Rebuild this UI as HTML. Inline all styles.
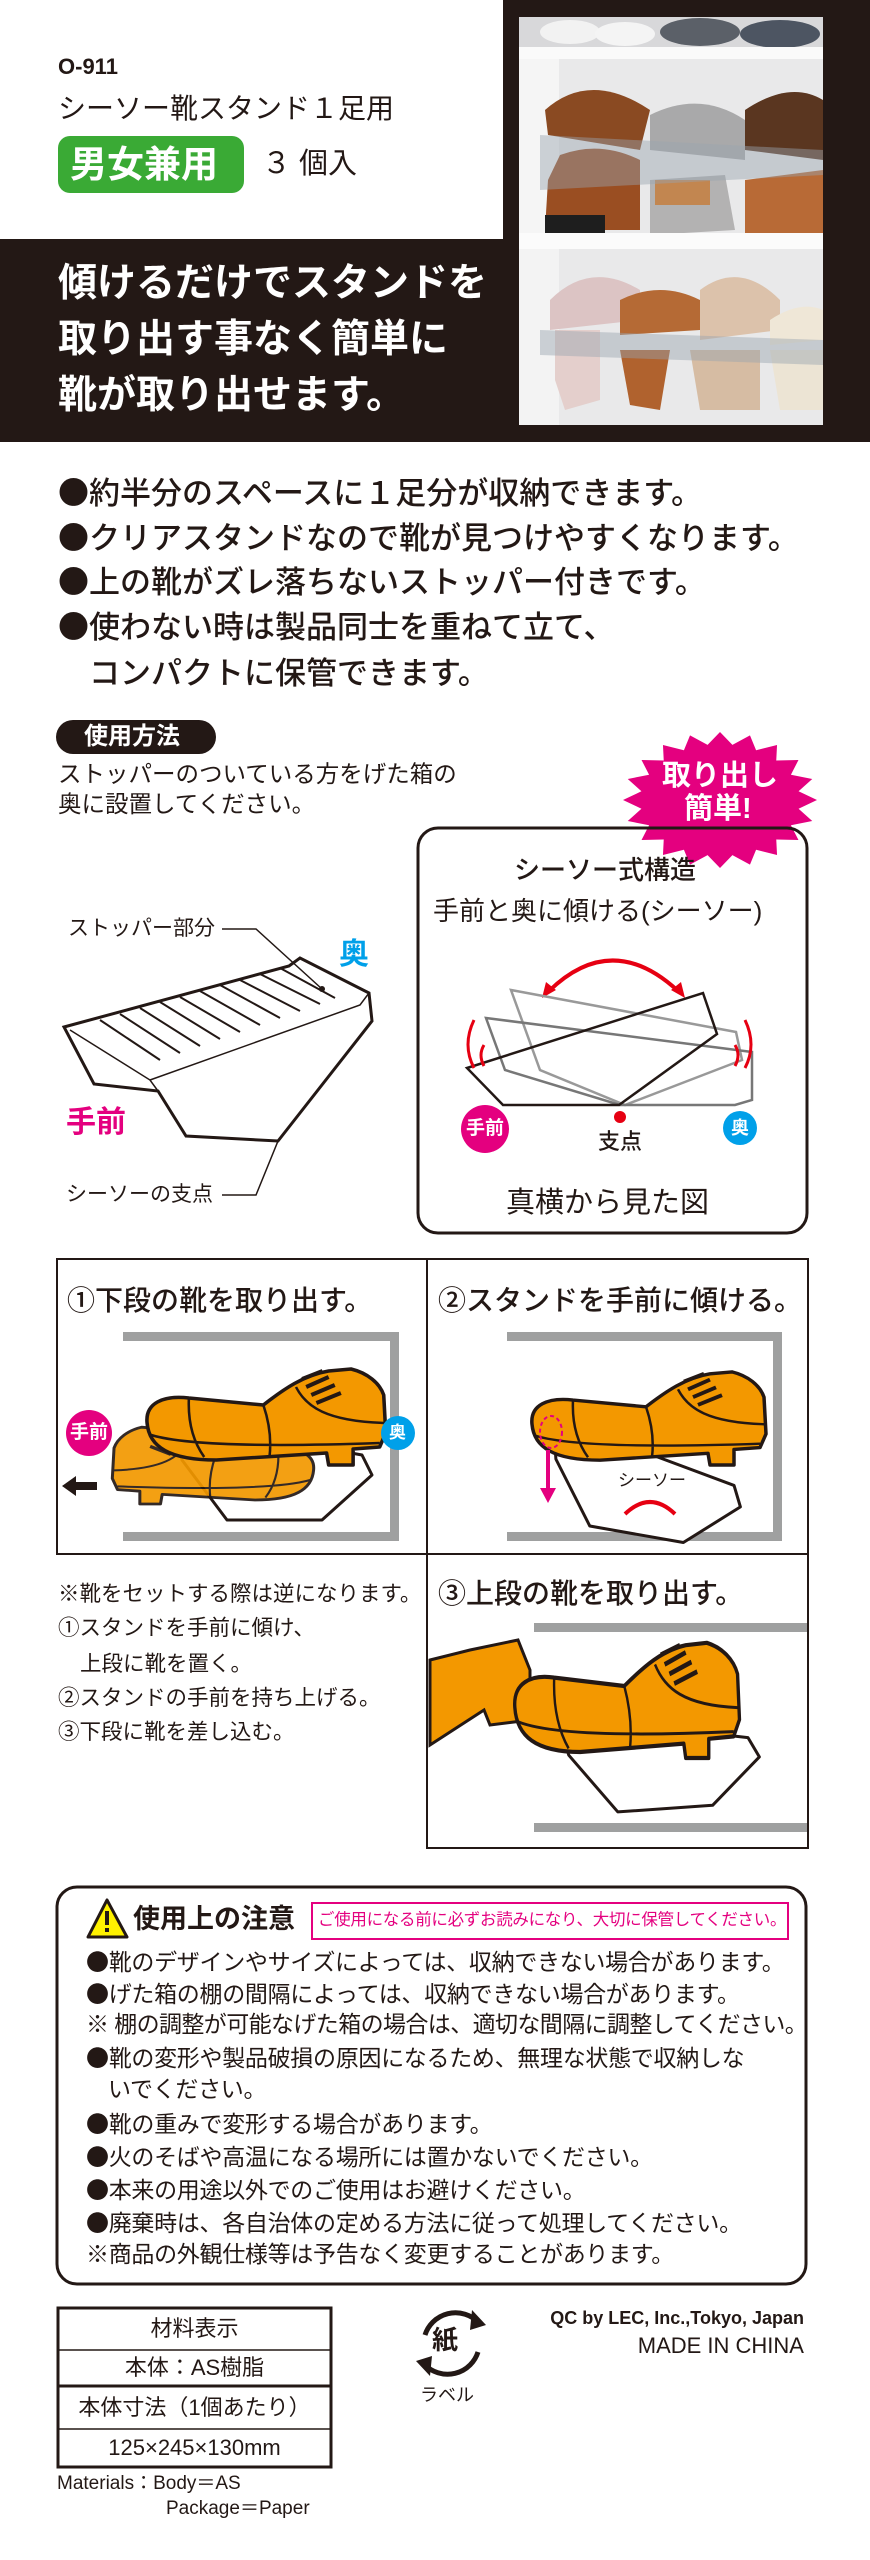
<!DOCTYPE html>
<html><head><meta charset="utf-8">
<style>
*{margin:0;padding:0;box-sizing:border-box}
body{width:870px;height:2560px;background:#fff;position:relative;overflow:hidden;font-family:"Liberation Sans","Noto Sans CJK JP",sans-serif;color:#231815}
.t{position:absolute;white-space:nowrap;line-height:1}
.b{font-family:"Noto Sans CJK JP",sans-serif}
svg.bg{position:absolute;left:0;top:0}
</style></head><body>
<svg class="bg" width="870" height="2560" viewBox="0 0 870 2560" xmlns="http://www.w3.org/2000/svg">
<rect x="0" y="239" width="870" height="203" fill="#231815"/>
<rect x="503" y="0" width="367" height="442" fill="#231815"/>
<rect x="519" y="17" width="304" height="408" fill="#e9e9ea"/>
<rect x="519" y="17" width="304" height="30" fill="#d8d8da"/>
<ellipse cx="570" cy="32" rx="30" ry="12" fill="#f2f2f2"/><ellipse cx="625" cy="34" rx="30" ry="12" fill="#f4f4f4"/>
<ellipse cx="700" cy="32" rx="40" ry="14" fill="#5b6068"/><ellipse cx="780" cy="34" rx="40" ry="14" fill="#4d5562"/>
<rect x="519" y="47" width="304" height="12" fill="#fafafa"/>
<rect x="519" y="59" width="40" height="174" fill="#f5f5f5"/>
<path d="M545 110 Q590 70 650 110 L640 150 L548 135Z" fill="#8a4a22"/>
<path d="M560 155 Q600 140 640 160 L640 230 L545 230 L548 180Z" fill="#9a4e22"/>
<rect x="545" y="215" width="60" height="20" fill="#1e1e1e"/>
<path d="M650 115 Q700 90 745 120 L745 160 L650 150Z" fill="#a9a9aa"/>
<path d="M650 180 L725 175 L735 230 L650 235Z" fill="#b3b2b2"/><rect x="655" y="180" width="55" height="25" fill="#c28650"/>
<path d="M745 110 Q790 80 823 100 L823 160 L745 150Z" fill="#5a3620"/>
<path d="M745 180 L823 170 L823 235 L745 240Z" fill="#b86a36"/>
<path d="M540 135 L823 150 L823 175 L540 190Z" fill="#9aa3b0" opacity=".45"/>
<rect x="519" y="233" width="304" height="16" fill="#fbfbfb"/>
<rect x="519" y="249" width="40" height="176" fill="#f3f3f3"/>
<path d="M550 300 Q590 260 640 290 L640 320 L550 330Z" fill="#dcc4c4"/>
<path d="M555 330 L600 330 L600 400 L565 410 L555 380Z" fill="#e4cfcc"/>
<path d="M620 300 Q660 280 700 300 L700 330 L620 335Z" fill="#b56a35"/>
<path d="M620 350 L670 350 L660 410 L630 405Z" fill="#b0622e"/>
<path d="M700 290 Q740 260 780 300 L780 330 L700 340Z" fill="#dcc2ab"/>
<path d="M690 350 L760 350 L760 410 L700 410Z" fill="#d6bca3"/>
<path d="M770 320 Q800 300 823 310 L823 340 L770 345Z" fill="#efe7d7"/>
<path d="M770 350 L823 350 L823 410 L780 410Z" fill="#ece4d4"/>
<path d="M540 330 L823 340 L823 365 L540 355Z" fill="#9aa3b0" opacity=".45"/>

<rect x="58" y="136" width="186" height="57" rx="12" fill="#3aaa35"/>
<rect x="56" y="720" width="160" height="34" rx="17" fill="#231815"/>
<svg x="623" y="732" width="194" height="136" viewBox="-100 -100 200 200" preserveAspectRatio="none">
<polygon fill="#e4007f" points="100,0 81,12.8 95.1,30.9 73.1,37.2 80.9,58.8 58,58 58.8,80.9 37.2,73.1 30.9,95.1 12.8,81 0,100 -12.8,81 -30.9,95.1 -37.2,73.1 -58.8,80.9 -58,58 -80.9,58.8 -73.1,37.2 -95.1,30.9 -81,12.8 -100,0 -81,-12.8 -95.1,-30.9 -73.1,-37.2 -80.9,-58.8 -58,-58 -58.8,-80.9 -37.2,-73.1 -30.9,-95.1 -12.8,-81 0,-100 12.8,-81 30.9,-95.1 37.2,-73.1 58.8,-80.9 58,-58 80.9,-58.8 73.1,-37.2 95.1,-30.9 81,-12.8"/>
</svg>
<rect x="418" y="828" width="389" height="405" rx="20" fill="none" stroke="#231815" stroke-width="3"/>
<path d="M549 991 Q612 930 678 991" fill="none" stroke="#e60012" stroke-width="4"/>
<polygon points="542,998 546,982 556,990" fill="#e60012"/>
<polygon points="685,998 681,982 671,990" fill="#e60012"/>
<polygon points="511,990 736,1032 742,1060 625,1105 540,1070" fill="none" stroke="#999" stroke-width="2.5"/>
<polygon points="486,1018 752,1052 752,1100 735,1105 620,1105 505,1070" fill="none" stroke="#777" stroke-width="2.5"/>
<polygon points="467,1068 703,993 717,1034 619,1105 503,1105" fill="none" stroke="#231815" stroke-width="2.5"/>
<path d="M474 1020 Q462 1045 474 1068" fill="none" stroke="#e60012" stroke-width="3"/>
<path d="M484 1045 Q478 1055 484 1066" fill="none" stroke="#e60012" stroke-width="3"/>
<path d="M745 1020 Q757 1045 745 1068" fill="none" stroke="#e60012" stroke-width="3"/>
<path d="M735 1045 Q741 1055 735 1066" fill="none" stroke="#e60012" stroke-width="3"/>
<circle cx="485" cy="1129" r="24" fill="#e4007f"/>
<circle cx="620" cy="1117" r="6" fill="#e60012"/>
<circle cx="740" cy="1128" r="17" fill="#00a0e9"/>
<polygon points="64,1027 289,966 300,958 369,993 372,1021 278,1141 186,1136 158,1091 94,1084" fill="#fff" stroke="#231815" stroke-width="3"/>
<polyline points="70,1030 150,1080 158,1091" fill="none" stroke="#231815" stroke-width="1.5"/>
<polyline points="150,1080 360,1005 369,993" fill="none" stroke="#231815" stroke-width="1.5"/>
<g stroke="#231815" stroke-width="2">
<line x1="100" y1="1020" x2="160" y2="1060"/><line x1="120" y1="1014" x2="180" y2="1053"/><line x1="140" y1="1008" x2="200" y2="1046"/><line x1="160" y1="1002" x2="220" y2="1039"/><line x1="180" y1="997" x2="240" y2="1032"/><line x1="200" y1="991" x2="260" y2="1025"/><line x1="220" y1="985" x2="280" y2="1018"/><line x1="240" y1="980" x2="300" y2="1011"/><line x1="260" y1="974" x2="320" y2="1004"/><line x1="280" y1="968" x2="335" y2="998"/>
</g>
<circle cx="322" cy="989" r="3" fill="#231815"/>
<polyline points="222,929 256,929 322,989" fill="none" stroke="#231815" stroke-width="1.5"/>
<polyline points="222,1195 256,1195 278,1141" fill="none" stroke="#231815" stroke-width="1.5"/>

<g fill="none" stroke="#231815" stroke-width="2">
<rect x="57" y="1259" width="751" height="295"/>
<line x1="427" y1="1259" x2="427" y2="1848"/>
<polyline points="427,1554 427,1848 808,1848 808,1554"/>
</g>
<g fill="#9fa0a0">
<rect x="123" y="1332" width="276" height="9"/><rect x="390" y="1332" width="9" height="209"/><rect x="123" y="1532" width="276" height="9"/>
<rect x="507" y="1332" width="275" height="9"/><rect x="773" y="1332" width="9" height="209"/><rect x="507" y="1532" width="275" height="9"/>
<rect x="534" y="1623" width="273" height="9"/><rect x="534" y="1823" width="273" height="9"/>
</g>
<defs>
<g id="shoe">
<path d="M4,58 C2,38 20,30 45,33 L118,40 C138,24 158,10 182,6 L204,4 C220,8 232,18 236,30 L238,68 L232,82 L206,84 L206,100 L182,100 L180,88 L72,95 C26,95 6,82 4,58 Z" fill="#f39800" stroke="#231815" stroke-width="3.5" stroke-linejoin="round"/>
<path d="M118,40 C124,58 126,75 124,92 M150,22 C160,42 180,56 236,58 M45,33 C44,55 48,75 60,92 M8,70 C40,80 120,82 232,78" fill="none" stroke="#231815" stroke-width="2.5"/>
<path d="M156,14 L176,6 M160,22 L182,12 M165,30 L188,20 M170,38 L194,28" stroke="#231815" stroke-width="4"/>
</g>
<g id="stand">
<polygon points="0,0 190,35 200,55 150,100 55,100 10,40" fill="#fff" stroke="#231815" stroke-width="3" stroke-linejoin="round"/>
</g>
</defs>
<use href="#stand" x="172" y="1420"/>
<g transform="translate(317,1424) scale(-0.86,0.8)" opacity="0.92"><use href="#shoe"/></g>
<g transform="translate(143,1365) scale(1.02,1)"><use href="#shoe"/></g>
<circle cx="89" cy="1433" r="23" fill="#e4007f"/>
<circle cx="398" cy="1433" r="17" fill="#00a0e9"/>
<polygon points="62,1486 76,1476 76,1482 97,1482 97,1490 76,1490 76,1496" fill="#231815"/>
<g transform="translate(553,1418) rotate(10)"><use href="#stand"/></g>
<g transform="translate(528,1368) scale(1,0.97)"><use href="#shoe"/></g>
<ellipse cx="551" cy="1432" rx="11" ry="16" fill="none" stroke="#e4007f" stroke-width="2" stroke-dasharray="4 3"/>
<line x1="548" y1="1450" x2="548" y2="1492" stroke="#e4007f" stroke-width="4"/>
<polygon points="540,1488 556,1488 548,1503" fill="#e4007f"/>
<path d="M625 1514 Q650 1490 675 1514" fill="none" stroke="#e60012" stroke-width="4"/>
<g transform="translate(430,1640)"><path d="M0,20 L40,10 L88,0 L100,30 L100,80 L60,85 L54,70 L0,105 Z" fill="#f39800" stroke="#231815" stroke-width="3"/></g>
<g transform="translate(556,1716) rotate(-4)"><use href="#stand"/></g>
<g transform="translate(511,1638) scale(0.96,1.2)"><use href="#shoe"/></g>

<rect x="57" y="1887" width="749" height="397" rx="20" fill="none" stroke="#231815" stroke-width="3"/>
<polygon points="107,1900 127,1937 88,1937" fill="#fff100" stroke="#231815" stroke-width="3" stroke-linejoin="round"/>
<rect x="105" y="1911" width="4" height="14" fill="#231815"/><rect x="105" y="1928" width="4" height="4" fill="#231815"/>
<rect x="312" y="1903" width="476" height="36" fill="none" stroke="#e4007f" stroke-width="2"/>
<g fill="none" stroke="#231815">
<rect x="58" y="2308" width="273" height="159" stroke-width="3"/>
<line x1="58" y1="2350" x2="331" y2="2350" stroke-width="1.5"/>
<line x1="58" y1="2386" x2="331" y2="2386" stroke-width="3"/>
<line x1="58" y1="2429" x2="331" y2="2429" stroke-width="1.5"/>
</g>
<path d="M425 2335 A32 32 0 0 1 478 2322" fill="none" stroke="#231815" stroke-width="5"/>
<polygon points="472,2310 486,2325 470,2330" fill="#231815"/>
<path d="M478 2352 A32 32 0 0 1 425 2365" fill="none" stroke="#231815" stroke-width="5"/>
<polygon points="430,2376 416,2361 432,2356" fill="#231815"/>
</svg>

<div class="t" style="left:58px;top:56px;font-size:22px;font-weight:bold">O-911</div>
<div class="t" style="left:58px;top:95px;font-size:28px">シーソー靴スタンド１足用</div>
<div class="t" style="left:70px;top:146px;font-size:37px;font-weight:bold;color:#fff">男女兼用</div>
<div class="t" style="left:262px;top:150px;font-size:29px">３ 個入</div>
<div class="t" style="left:58px;top:264px;font-size:39px;font-weight:bold;color:#fff">傾けるだけでスタンドを</div>
<div class="t" style="left:58px;top:320px;font-size:39px;font-weight:bold;color:#fff">取り出す事なく簡単に</div>
<div class="t" style="left:58px;top:376px;font-size:39px;font-weight:bold;color:#fff">靴が取り出せます。</div>

<div class="t" style="left:58px;top:475px;font-size:31px;font-weight:500"><span class="b">●</span>約半分のスペースに１足分が収納できます。</div>
<div class="t" style="left:58px;top:520px;font-size:31px;font-weight:500"><span class="b">●</span>クリアスタンドなので靴が見つけやすくなります。</div>
<div class="t" style="left:58px;top:564px;font-size:31px;font-weight:500"><span class="b">●</span>上の靴がズレ落ちないストッパー付きです。</div>
<div class="t" style="left:58px;top:609px;font-size:31px;font-weight:500"><span class="b">●</span>使わない時は製品同士を重ねて立て、</div>
<div class="t" style="left:89px;top:658px;font-size:31px;font-weight:500">コンパクトに保管できます。</div>

<div class="t" style="left:84px;top:725px;font-size:24px;font-weight:bold;color:#fff">使用方法</div>
<div class="t" style="left:58px;top:763px;font-size:23.5px">ストッパーのついている方をげた箱の</div>
<div class="t" style="left:58px;top:793px;font-size:23.5px">奥に設置してください。</div>
<div class="t" style="left:662px;top:762px;font-size:29px;font-weight:bold;color:#fff">取り出し</div>
<div class="t" style="left:684px;top:795px;font-size:29px;font-weight:bold;color:#fff">簡単!</div>
<div class="t" style="left:514px;top:857px;font-size:26px;font-weight:500">シーソー式構造</div>
<div class="t" style="left:433px;top:898px;font-size:26px">手前と奥に傾ける(シーソー)</div>
<div class="t" style="left:466px;top:1119px;font-size:19px;font-weight:bold;color:#fff">手前</div>
<div class="t" style="left:598px;top:1131px;font-size:22px;font-weight:500">支点</div>
<div class="t" style="left:731px;top:1119px;font-size:18px;font-weight:bold;color:#fff">奥</div>
<div class="t" style="left:506px;top:1189px;font-size:29px">真横から見た図</div>
<div class="t" style="left:68px;top:918px;font-size:21px">ストッパー部分</div>
<div class="t" style="left:339px;top:940px;font-size:30px;font-weight:bold;color:#00a0e9">奥</div>
<div class="t" style="left:66px;top:1108px;font-size:30px;font-weight:bold;color:#e4007f">手前</div>
<div class="t" style="left:66px;top:1184px;font-size:21px">シーソーの支点</div>

<div class="t" style="left:67px;top:1287px;font-size:28px;font-weight:500">①下段の靴を取り出す。</div>
<div class="t" style="left:438px;top:1287px;font-size:28px;font-weight:500">②スタンドを手前に傾ける。</div>
<div class="t" style="left:70px;top:1423px;font-size:19px;font-weight:bold;color:#fff">手前</div>
<div class="t" style="left:389px;top:1424px;font-size:17px;font-weight:bold;color:#fff">奥</div>
<div class="t" style="left:618px;top:1472px;font-size:17px">シーソー</div>
<div class="t" style="left:58px;top:1584px;font-size:21.5px">※靴をセットする際は逆になります。</div>
<div class="t" style="left:58px;top:1618px;font-size:21.5px">①スタンドを手前に傾け、</div>
<div class="t" style="left:80px;top:1654px;font-size:21.5px">上段に靴を置く。</div>
<div class="t" style="left:58px;top:1688px;font-size:21.5px">②スタンドの手前を持ち上げる。</div>
<div class="t" style="left:58px;top:1722px;font-size:21.5px">③下段に靴を差し込む。</div>
<div class="t" style="left:438px;top:1580px;font-size:28px;font-weight:500">③上段の靴を取り出す。</div>

<div class="t" style="left:133px;top:1906px;font-size:27px;font-weight:bold">使用上の注意</div>
<div class="t" style="left:318px;top:1912px;font-size:16.5px;color:#e4007f;letter-spacing:-0.3px">ご使用になる前に必ずお読みになり、大切に保管してください。</div>
<div class="t" style="left:86px;top:1949px;font-size:23px;letter-spacing:-0.3px"><span class="b">●</span>靴のデザインやサイズによっては、収納できない場合があります。</div>
<div class="t" style="left:86px;top:1981px;font-size:23px;letter-spacing:-0.3px"><span class="b">●</span>げた箱の棚の間隔によっては、収納できない場合があります。</div>
<div class="t" style="left:86px;top:2013px;font-size:23px;letter-spacing:-0.6px">※ 棚の調整が可能なげた箱の場合は、適切な間隔に調整してください。</div>
<div class="t" style="left:86px;top:2045px;font-size:23px;letter-spacing:-0.3px"><span class="b">●</span>靴の変形や製品破損の原因になるため、無理な状態で収納しな</div>
<div class="t" style="left:108px;top:2078px;font-size:23px;letter-spacing:-0.3px">いでください。</div>
<div class="t" style="left:86px;top:2111px;font-size:23px;letter-spacing:-0.3px"><span class="b">●</span>靴の重みで変形する場合があります。</div>
<div class="t" style="left:86px;top:2144px;font-size:23px;letter-spacing:-0.3px"><span class="b">●</span>火のそばや高温になる場所には置かないでください。</div>
<div class="t" style="left:86px;top:2177px;font-size:23px;letter-spacing:-0.3px"><span class="b">●</span>本来の用途以外でのご使用はお避けください。</div>
<div class="t" style="left:86px;top:2210px;font-size:23px;letter-spacing:-0.3px"><span class="b">●</span>廃棄時は、各自治体の定める方法に従って処理してください。</div>
<div class="t" style="left:86px;top:2243px;font-size:23px;letter-spacing:-0.3px">※商品の外観仕様等は予告なく変更することがあります。</div>

<div class="t" style="left:58px;width:273px;text-align:center;top:2318px;font-size:22px">材料表示</div>
<div class="t" style="left:58px;width:273px;text-align:center;top:2357px;font-size:22px">本体：AS樹脂</div>
<div class="t" style="left:58px;width:273px;text-align:center;top:2397px;font-size:22px">本体寸法（1個あたり）</div>
<div class="t" style="left:58px;width:273px;text-align:center;top:2437px;font-size:22px">125×245×130mm</div>
<div class="t" style="left:57px;top:2474px;font-size:19px">Materials：Body＝AS</div>
<div class="t" style="left:166px;top:2499px;font-size:19px">Package＝Paper</div>
<div class="t" style="left:432px;top:2327px;font-size:26px;font-weight:bold">紙</div>
<div class="t" style="left:420px;top:2386px;font-size:18px">ラベル</div>
<div class="t" style="right:66px;top:2309px;font-size:18px;font-weight:bold">QC by LEC, Inc.,Tokyo, Japan</div>
<div class="t" style="right:66px;top:2335px;font-size:22px">MADE IN CHINA</div>
</body></html>
